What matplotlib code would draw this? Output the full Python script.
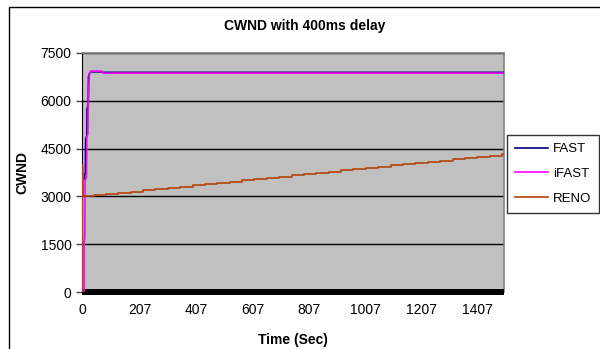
import matplotlib
matplotlib.use('agg')
from matplotlib import pyplot as plt
from matplotlib.patches import Rectangle

plt.rcParams['font.family'] = ['Liberation Sans', 'DejaVu Sans']

# FAST and iFAST: quick ramp then flat
fast_t = [9, 10, 12, 13, 17, 18, 22, 23, 27, 31, 70, 76, 1500]
fast_v = [3550, 3700, 3750, 4800, 4900, 5750, 5850, 6750, 6850, 6900, 6900, 6885, 6885]

ifast_t = [8, 8, 10, 11, 16, 17, 21, 22, 26, 31, 70, 76, 1500]
ifast_v = [0, 1580, 1700, 3500, 3600, 4860, 4950, 5800, 6790, 6925, 6925, 6860, 6860]

# RENO: spike at start, then staircase growth
reno_start_t = [0, 1, 1, 2]
reno_start_v = [0, 0, 3980, 3000]
reno_t = [2, 41, 85, 129, 173, 217, 261, 305, 349, 393, 437, 481, 525, 569, 613,
          657, 701, 745, 789, 833, 877, 921, 965, 1009, 1053, 1097, 1141, 1185,
          1229, 1273, 1317, 1361, 1405, 1449, 1493, 1500]
reno_v = [3000, 3040, 3080, 3115, 3155, 3195, 3235, 3270, 3310, 3350, 3390, 3425,
          3465, 3505, 3545, 3580, 3620, 3660, 3700, 3735, 3775, 3815, 3855, 3890,
          3930, 3970, 4010, 4045, 4085, 4125, 4165, 4200, 4240, 4280, 4320, 4320]

xticks = [0, 207, 407, 607, 807, 1007, 1207, 1407]
yticks = [0, 1500, 3000, 4500, 6000, 7500]

fig = plt.figure(figsize=(6, 3.49), dpi=100)
fig.patches.append(Rectangle((9 / 600, -0.05), 1.0, 1.05 - 7 / 349, transform=fig.transFigure,
                             fill=False, edgecolor='black', linewidth=1))

ax = fig.add_axes([82 / 600, 56.7 / 349, 422 / 600, 239.6 / 349])
ax.set_facecolor('#C0C0C0')

ax.plot(fast_t, fast_v, color='#000080', linewidth=1.2, label='FAST', zorder=3)
ax.plot(ifast_t, ifast_v, color='#FF00FF', linewidth=1.2, label='iFAST', zorder=4)
ax.plot(reno_start_t, reno_start_v, color='#B4420A', linewidth=1.5, zorder=5)
ax.step(reno_t, reno_v, where='post', color='#B4420A', linewidth=1.2, label='RENO', zorder=5)

ax.set_xlim(0, 1500)
ax.set_ylim(0, 7500)
ax.set_xticks(xticks)
ax.set_yticks(yticks)
ax.tick_params(axis='both', labelsize=10, length=4, width=1, color='#404040')
ax.tick_params(axis='x', length=0, pad=8)
ax.yaxis.grid(True, color='black', linewidth=1)
ax.set_axisbelow(True)

ax.spines['left'].set_color('black')
ax.spines['bottom'].set_color('black')
ax.spines['bottom'].set_linewidth(4.3)
ax.spines['bottom'].set_capstyle('butt')
ax.spines['top'].set_color('#808080')
ax.spines['right'].set_color('#808080')
ax.spines['top'].set_linewidth(1.2)
ax.spines['right'].set_linewidth(1.2)

ax.set_xlabel('Time (Sec)', fontsize=10, fontweight='bold', labelpad=11)
ax.set_ylabel('CWND', fontsize=10, fontweight='bold', labelpad=8)
fig.text(0.507, 0.925, 'CWND with 400ms delay', ha='center', va='center',
         fontsize=10, fontweight='bold')

leg = ax.legend(loc='upper left', bbox_to_anchor=(507 / 600, (349 - 135) / 349),
                bbox_transform=fig.transFigure, fontsize=9.5, frameon=True,
                fancybox=False, edgecolor='black', handlelength=2.5,
                handletextpad=0.4, borderpad=0.6, labelspacing=0.95,
                borderaxespad=0)
leg.get_frame().set_linewidth(1)

plt.savefig('out.png')
